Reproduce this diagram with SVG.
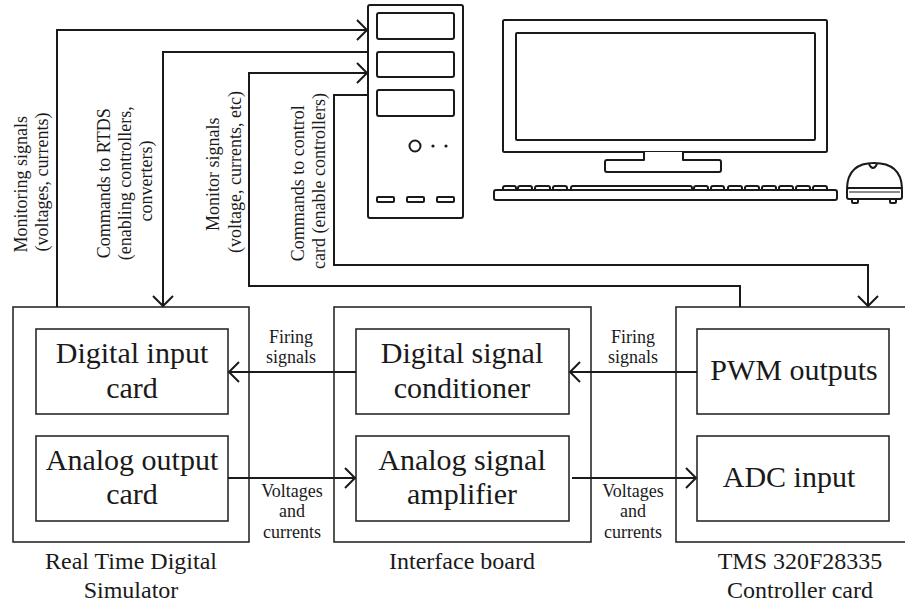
<svg xmlns="http://www.w3.org/2000/svg" width="905" height="607" viewBox="0 0 905 607">
  <style>
    .box { fill: none; stroke: #2a2a2a; stroke-width: 1.6; }
    .hw { fill: #fff; stroke: #1a1a1a; stroke-width: 2; stroke-linejoin: round; }
    .wire { fill: none; stroke: #1a1a1a; stroke-width: 2; }
    .big { font-family: "Liberation Serif", "Times New Roman", serif; font-size: 30px; fill: #1a1a1a; text-anchor: middle; }
    .cap { font-family: "Liberation Serif", "Times New Roman", serif; font-size: 24px; fill: #1a1a1a; text-anchor: middle; }
    .lbl { font-family: "Liberation Serif", "Times New Roman", serif; font-size: 18px; fill: #1a1a1a; text-anchor: middle; }
  </style>
  <defs>
    <marker id="arrow" markerUnits="userSpaceOnUse" markerWidth="24" markerHeight="24" refX="0" refY="0" viewBox="-12 -12 24 24" orient="auto" overflow="visible">
      <path d="M-10,-10 L0,0 L-10,10" fill="none" stroke="#1a1a1a" stroke-width="2"/>
    </marker>
  </defs>
  <rect width="905" height="607" fill="#fff"/>

  <!-- PC tower -->
  <g id="pc-tower">
    <rect class="hw" x="368" y="5" width="95" height="213" rx="2"/>
    <rect class="hw" x="377" y="13" width="77" height="26" rx="2"/>
    <rect class="hw" x="377" y="52" width="77" height="25" rx="2"/>
    <rect class="hw" x="377" y="90" width="77" height="26" rx="2"/>
    <circle class="hw" cx="415" cy="146" r="5.5"/>
    <circle cx="433" cy="146" r="1.6" fill="#1a1a1a"/>
    <circle cx="446" cy="146" r="1.6" fill="#1a1a1a"/>
    <rect class="hw" x="377" y="197" width="17" height="5" rx="1"/>
    <rect class="hw" x="407" y="197" width="17" height="5" rx="1"/>
    <rect class="hw" x="437" y="197" width="17" height="5" rx="1"/>
  </g>

  <!-- Monitor and keyboard -->
  <g id="pc-monitor">
    <rect class="hw" x="503" y="20" width="324" height="132" rx="1.5"/>
    <rect class="hw" x="516" y="33" width="299" height="107" rx="1"/>
    <path class="hw" d="M644,152 V160 H607 Q605,160 605,162 V170 Q605,172 607,172 H719 Q721,172 721,170 V162 Q721,160 719,160 H683 V152"/>
  </g>
  <g id="pc-keyboard">
    <path class="hw" d="M503,190 V188 Q503,186 505,186 H514 Q516,186 516,188 V190 M518,190 V188 Q518,186 520,186 H530 Q532,186 532,188 V190 M535,190 V188 Q535,186 537,186 H548 Q550,186 550,188 V190 M553,190 V188 Q553,186 555,186 H565 Q567,186 567,188 V190 M571,190 V188 Q571,186 573,186 H690 Q692,186 692,188 V190 M694,190 V188 Q694,186 696,186 H706 Q708,186 708,188 V190 M711,190 V188 Q711,186 713,186 H722 Q724,186 724,188 V190 M728,190 V188 Q728,186 730,186 H740 Q742,186 742,188 V190 M745,190 V188 Q745,186 747,186 H757 Q759,186 759,188 V190 M762,190 V188 Q762,186 764,186 H774 Q776,186 776,188 V190 M779,190 V188 Q779,186 781,186 H791 Q793,186 793,188 V190 M796,190 V188 Q796,186 798,186 H808 Q810,186 810,188 V190 M813,190 V188 Q813,186 815,186 H825 Q827,186 827,188 V190"/>
    <rect class="hw" x="494" y="190" width="343" height="10" rx="2"/>
  </g>
  <g id="pc-mouse">
    <rect class="hw" x="852" y="198" width="6" height="5" rx="1"/>
    <rect class="hw" x="890" y="198" width="6" height="5" rx="1"/>
    <path class="hw" d="M847,188 Q848,163 874,163 Q901,163 902,188 Z"/>
    <path class="hw" d="M869,164 Q873,172 877,164" fill="none"/>
    <rect class="hw" x="847" y="188" width="55" height="11" rx="2"/>
    <line x1="849" y1="192" x2="900" y2="192" stroke="#1a1a1a" stroke-width="1"/>
  </g>

  <!-- Real Time Digital Simulator -->
  <g id="rtds">
    <rect class="box" x="13" y="307" width="236" height="235"/>
    <text class="cap" x="131" y="569">Real Time Digital</text>
    <text class="cap" x="131" y="598">Simulator</text>
  </g>
  <g id="digital-input-card">
    <rect class="box" x="36" y="329" width="192" height="85"/>
    <text class="big" x="132" y="363">Digital input</text>
    <text class="big" x="132" y="398">card</text>
  </g>
  <g id="analog-output-card">
    <rect class="box" x="36" y="436" width="192" height="85"/>
    <text class="big" x="132" y="470">Analog output</text>
    <text class="big" x="132" y="504">card</text>
  </g>

  <!-- Interface board -->
  <g id="interface-board">
    <rect class="box" x="334" y="307" width="257" height="235"/>
    <text class="cap" x="462" y="569">Interface board</text>
  </g>
  <g id="digital-signal-conditioner">
    <rect class="box" x="356" y="329" width="213" height="85"/>
    <text class="big" x="462" y="363">Digital signal</text>
    <text class="big" x="462" y="398">conditioner</text>
  </g>
  <g id="analog-signal-amplifier">
    <rect class="box" x="356" y="436" width="213" height="85"/>
    <text class="big" x="462" y="470">Analog signal</text>
    <text class="big" x="462" y="504">amplifier</text>
  </g>

  <!-- Controller card -->
  <g id="controller-card">
    <rect class="box" x="676" y="307" width="240" height="235"/>
    <text class="cap" x="800" y="569">TMS 320F28335</text>
    <text class="cap" x="800" y="598">Controller card</text>
  </g>
  <g id="pwm-outputs">
    <rect class="box" x="697" y="329" width="192" height="85"/>
    <text class="big" x="794" y="380">PWM outputs</text>
  </g>
  <g id="adc-input">
    <rect class="box" x="697" y="436" width="192" height="85"/>
    <text class="big" x="789" y="487">ADC input</text>
  </g>

  <!-- Connectors -->
  <g id="connectors">
    <path class="wire" d="M57,307 V30 H367" marker-end="url(#arrow)"/>
    <path class="wire" d="M368,52 H163 V306" marker-end="url(#arrow)"/>
    <path class="wire" d="M740,307 V286 H249 V73 H367" marker-end="url(#arrow)"/>
    <path class="wire" d="M368,95 H334 V265 H868 V306" marker-end="url(#arrow)"/>
    <path class="wire" d="M356,372 H229" marker-end="url(#arrow)"/>
    <path class="wire" d="M697,372 H570" marker-end="url(#arrow)"/>
    <path class="wire" d="M228,478 H355" marker-end="url(#arrow)"/>
    <path class="wire" d="M572,478 H696" marker-end="url(#arrow)"/>
  </g>

  <!-- Connector labels -->
  <g id="connector-labels">
    <text class="lbl" transform="translate(27,182) rotate(-90)">
      <tspan x="0" y="0">Monitoring signals</tspan>
      <tspan x="0" y="21">(voltages, currents)</tspan>
    </text>
    <text class="lbl" transform="translate(110,181) rotate(-90)">
      <tspan x="0" y="0">Commands to RTDS</tspan>
      <tspan x="0" y="21">(enabling controllers,</tspan>
      <tspan x="0" y="42">converters)</tspan>
    </text>
    <text class="lbl" transform="translate(219,172) rotate(-90)">
      <tspan x="0" y="0">Monitor signals</tspan>
      <tspan x="0" y="22">(voltage, currents, etc)</tspan>
    </text>
    <text class="lbl" transform="translate(304,181) rotate(-90)">
      <tspan x="0" y="0">Commands to control</tspan>
      <tspan x="0" y="21">card (enable controllers)</tspan>
    </text>
    <text class="lbl" x="291" y="343">Firing</text>
    <text class="lbl" x="291" y="363">signals</text>
    <text class="lbl" x="633" y="343">Firing</text>
    <text class="lbl" x="633" y="363">signals</text>
    <text class="lbl" x="292" y="497">Voltages</text>
    <text class="lbl" x="292" y="517">and</text>
    <text class="lbl" x="292" y="538">currents</text>
    <text class="lbl" x="633" y="497">Voltages</text>
    <text class="lbl" x="633" y="517">and</text>
    <text class="lbl" x="633" y="538">currents</text>
  </g>
</svg>
